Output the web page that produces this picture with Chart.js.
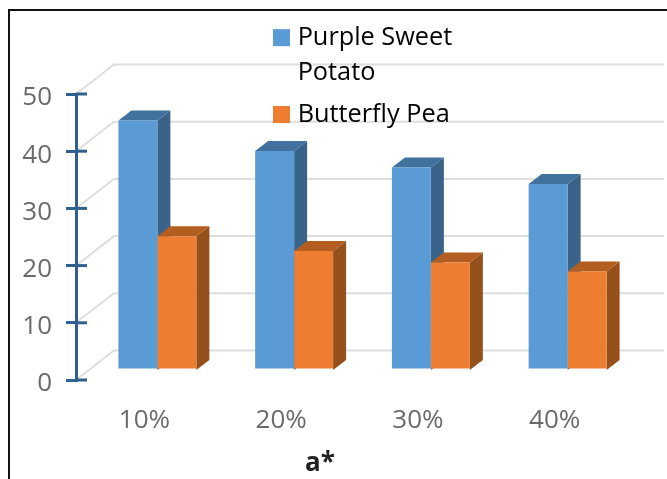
<!DOCTYPE html>
<html>
<head>
<meta charset="utf-8">
<style>
  html, body { margin: 0; padding: 0; background: #fff; }
  canvas { display: block; }
</style>
<script src="https://cdn.jsdelivr.net/npm/chart.js@4"></script>
</head>
<body>
<canvas id="myChart" width="667" height="479"></canvas>
<script>
const categories = ['10%', '20%', '30%', '40%'];
const purpleSweetPotato = [43.6, 38.3, 35.4, 32.5];
const butterflyPea = [23.4, 20.8, 18.8, 17.2];
const yTicks = [0, 10, 20, 30, 40, 50];

const font = '"Open Sans", sans-serif';
const textColor = '#6a6a6a';
const axisColor = '#2f6090';

// offset of the bars and of the back wall from the axis plane
const barShift = { x: 13, y: -10 };
const barDepth = { x: 13, y: -10 };
const wallShift = { x: 38, y: -29.5 };

const faces = [
  { side: '#3a6389', top: '#41719c' },
  { side: '#95501b', top: '#b35e20' }
];

const fakeDepth = {
  id: 'fakeDepth',
  afterLayout(chart) {
    // legend sits over the plot
    const legend = chart.legend;
    legend.left = 271;
    legend.right = 660;
    legend.top = 18;
    legend.bottom = 200;
    const title = chart.titleBlock;
    title.left = 0;
    title.right = 640;
  },
  beforeDraw(chart) {
    const ctx = chart.ctx;
    const area = chart.chartArea;
    const y = chart.scales.y;

    // picture frame
    ctx.save();
    ctx.strokeStyle = '#111';
    ctx.lineWidth = 2;
    ctx.beginPath();
    ctx.moveTo(9, 479);
    ctx.lineTo(9, 10);
    ctx.lineTo(667, 10);
    ctx.stroke();

    // floor and wall lines
    ctx.strokeStyle = '#dedede';
    ctx.lineWidth = 2;
    yTicks.forEach(function(t) {
      const py = y.getPixelForValue(t);
      ctx.beginPath();
      ctx.moveTo(area.left, py);
      ctx.lineTo(area.left + wallShift.x, py + wallShift.y);
      ctx.lineTo(area.right + wallShift.x + 3, py + wallShift.y);
      ctx.stroke();
    });
    ctx.restore();
  },
  beforeDatasetsDraw(chart) {
    const ctx = chart.ctx;
    ctx.save();
    ctx.translate(barShift.x, barShift.y);

    // sides and tops go first, the library paints the fronts over them
    for (let i = 0; i < chart.data.labels.length; i++) {
      chart.data.datasets.forEach(function(ds, d) {
        const bar = chart.getDatasetMeta(d).data[i];
        const left = bar.x - bar.width / 2;
        const right = bar.x + bar.width / 2;
        const base = chart.scales.y.getPixelForValue(0);

        ctx.fillStyle = faces[d].side;
        ctx.beginPath();
        ctx.moveTo(right, bar.y);
        ctx.lineTo(right + barDepth.x, bar.y + barDepth.y);
        ctx.lineTo(right + barDepth.x, base + barDepth.y);
        ctx.lineTo(right, base);
        ctx.closePath();
        ctx.fill();

        ctx.fillStyle = faces[d].top;
        ctx.beginPath();
        ctx.moveTo(left, bar.y);
        ctx.lineTo(left + barDepth.x, bar.y + barDepth.y);
        ctx.lineTo(right + barDepth.x, bar.y + barDepth.y);
        ctx.lineTo(right, bar.y);
        ctx.closePath();
        ctx.fill();
      });
    }
  },
  afterDatasetsDraw(chart) {
    const ctx = chart.ctx;
    ctx.restore();

    // tick marks cross the axis, the library only draws the left half
    const y = chart.scales.y;
    ctx.save();
    ctx.strokeStyle = axisColor;
    ctx.lineWidth = 3;
    yTicks.forEach(function(t) {
      const py = y.getPixelForValue(t);
      ctx.beginPath();
      ctx.moveTo(chart.chartArea.left, py);
      ctx.lineTo(chart.chartArea.left + 11, py);
      ctx.stroke();
    });
    ctx.restore();
  }
};

const locationOfChart = document.getElementById('myChart');

new Chart(locationOfChart, {
  type: 'bar',
  data: {
    labels: categories,
    datasets: [{
      label: ['Purple Sweet', 'Potato'],
      data: purpleSweetPotato,
      backgroundColor: '#5b9bd5',
      categoryPercentage: 0.57,
      barPercentage: 1
    }, {
      label: ['Butterfly Pea'],
      data: butterflyPea,
      backgroundColor: '#ed7d31',
      categoryPercentage: 0.57,
      barPercentage: 1
    }]
  },
  options: {
    responsive: false,
    animation: false,
    layout: { padding: { left: 0, top: 94, right: 44, bottom: 0 } },
    scales: {
      x: {
        grid: { display: false },
        border: { display: false },
        ticks: { color: textColor, font: { family: font, size: 26 }, padding: 17 },
        afterFit(scale) { scale.height = 67.8; }
      },
      y: {
        min: 0,
        max: 50,
        ticks: { stepSize: 10, color: textColor, font: { family: font, size: 26 }, padding: 14, labelOffset: 4 },
        grid: { drawOnChartArea: false, color: axisColor, lineWidth: 3, tickLength: 10 },
        border: { color: axisColor, width: 3 },
        afterFit(scale) { scale.width = 76; }
      }
    },
    plugins: {
      legend: {
        position: 'chartArea',
        align: 'start',
        labels: {
          color: textColor,
          font: { family: font, size: 25.3, lineHeight: 1.38 },
          padding: 7,
          boxWidth: 7,
          boxHeight: 7,
          // thick outline on a small box keeps the text close to the swatch
          generateLabels(chart) {
            return chart.data.datasets.map(function(ds, i) {
              return {
                text: ds.label,
                fillStyle: ds.backgroundColor,
                strokeStyle: ds.backgroundColor,
                lineWidth: 10,
                hidden: false,
                datasetIndex: i
              };
            });
          }
        }
      },
      title: {
        display: true,
        text: 'a*',
        position: 'bottom',
        color: '#222',
        font: { family: font, size: 26, weight: 'bold' },
        padding: 0
      },
      tooltip: { enabled: false }
    }
  },
  plugins: [fakeDepth]
});
</script>
</body>
</html>
